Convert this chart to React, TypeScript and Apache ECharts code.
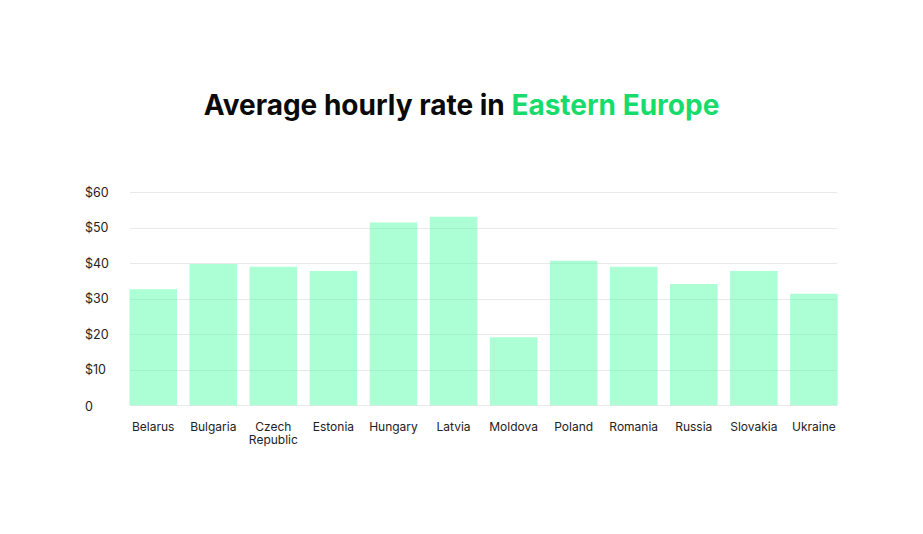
import React, { useEffect, useRef } from "react";
import * as echarts from "echarts";

const categories = ["Belarus", "Bulgaria", "Czech\nRepublic", "Estonia", "Hungary", "Latvia", "Moldova", "Poland", "Romania", "Russia", "Slovakia", "Ukraine"];
const rates = [32.7, 39.8, 39.0, 37.8, 51.5, 53.1, 19.2, 40.7, 39.0, 34.2, 37.8, 31.4];

export default function App() {
  const ref = useRef<HTMLDivElement>(null);
  useEffect(() => {
    const chart = echarts.init(ref.current!, null, { renderer: "svg" });
    const font = "Inter, 'Noto Sans', sans-serif";
    chart.setOption({
      animation: false,
      backgroundColor: "#ffffff",
      title: {
        left: "center",
        top: 86,
        text: "{a|Average hourly rate in }{b|Eastern Europe}",
        textStyle: {
          rich: {
            a: { fontFamily: font, fontSize: 28, fontWeight: 700, color: "#0a0a0a" },
            b: { fontFamily: font, fontSize: 28, fontWeight: 700, color: "#17dc6c" },
          },
        },
      },
      grid: [
        { left: 130, right: 86, top: 192.3, bottom: 128.7 },
        { left: 123.2, right: 923 - 843.9, top: 192.3, bottom: 128.7 },
      ],
      xAxis: [
        { type: "category", gridIndex: 0, data: categories, show: false },
        {
          type: "category",
          gridIndex: 1,
          data: categories,
          axisLine: { show: false },
          axisTick: { show: false },
          axisLabel: {
            margin: 15,
            fontFamily: font,
            fontSize: 12,
            color: "#222222",
            lineHeight: 12.5,
            interval: 0,
          },
        },
      ],
      yAxis: [
        {
          type: "value",
          gridIndex: 0,
          min: 0,
          max: 60,
          interval: 10,
          axisLine: { show: false },
          axisTick: { show: false },
          splitLine: { lineStyle: { color: "#e9e9e9", width: 1 } },
          axisLabel: {
            align: "left",
            margin: 45,
            fontFamily: font,
            fontSize: 12.5,
            color: "#222222",
            formatter: (v: number) => (v === 0 ? "{z|0}" : "$" + v),
            rich: { z: { fontFamily: font, fontSize: 12.5, color: "#222222", padding: [3, 0, 0, 0] } },
          },
        },
        { type: "value", gridIndex: 1, min: 0, max: 60, interval: 10, show: false },
      ],
      series: [
        {
          type: "bar",
          xAxisIndex: 1,
          yAxisIndex: 1,
          data: rates,
          barWidth: 47.5,
          itemStyle: { color: "rgba(90, 253, 172, 0.5)" },
        },
      ],
    });
    return () => chart.dispose();
  }, []);
  return <div ref={ref} style={{ position: "fixed", left: 0, top: 0, width: 923, height: 534 }} />;
}
